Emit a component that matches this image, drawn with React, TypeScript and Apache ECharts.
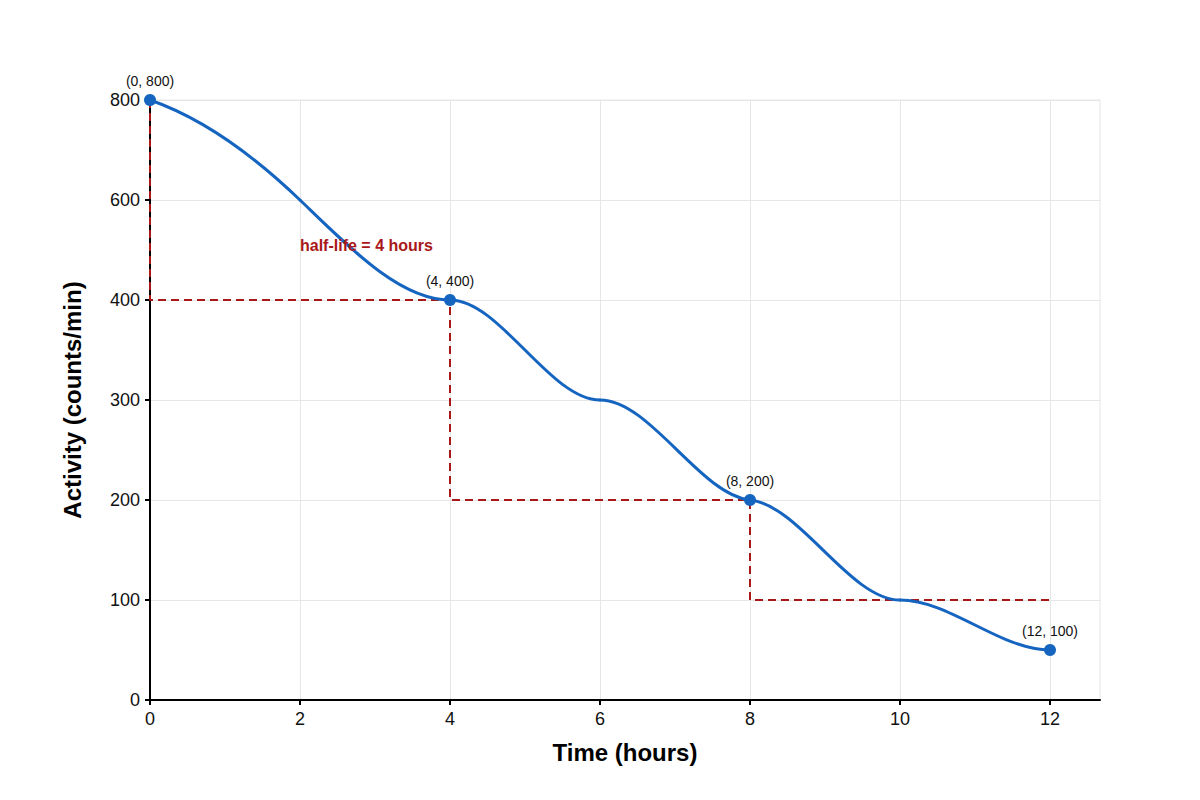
import { useEffect, useRef } from 'react'
import * as echarts from 'echarts'

// y axis: ticks are evenly spaced on screen, values are not
const yTickValues = [0, 100, 200, 300, 400, 600, 800]
const xTickValues = [0, 2, 4, 6, 8, 10, 12]

// decay curve: points, plus the slope of the curve at each
// point (in y-axis steps per hour, read off the picture too)
const curveHours = [0, 2, 4, 6, 8, 10, 12]
const curveActivity = [800, 600, 400, 300, 200, 100, 50]
const curveSlope = [-0.26, -0.72, 0, 0, -0.08, 0, 0]

// marked points
const markHours = [0, 4, 8, 12]
const markActivity = [800, 400, 200, 50]
const markLabels = ['(0, 800)', '(4, 400)', '(8, 200)', '(12, 100)']

// half-life steps
const stepHours = [0, 0, 4, 4, 8, 8, 12]
const stepActivity = [800, 400, 400, 200, 200, 100, 100]

const noteText = 'half-life = 4 hours'
const noteAt = [2, 510]

const colors = {
  curve: '#1565c0',
  marker: '#1565c0',
  step: '#a81818',
  grid: '#e6e6e6',
  text: '#111',
}

const font = '"Liberation Sans", Arial, Helvetica, sans-serif'

// activity -> position on the evenly spaced y axis
const toAxis = (v: number) => {
  for (let i = 0; i < yTickValues.length - 1; i++) {
    if (v <= yTickValues[i + 1]) {
      return i + (v - yTickValues[i]) / (yTickValues[i + 1] - yTickValues[i])
    }
  }
  return yTickValues.length - 1
}

export default function App() {
  const chartRef = useRef<HTMLDivElement>(null)

  useEffect(() => {
    document.body.style.margin = '0'
    if (!chartRef.current) return
    const chart = echarts.init(chartRef.current, null, { renderer: 'svg' })

    const option: echarts.EChartsOption = {
      animation: false,
      backgroundColor: '#fff',
      textStyle: { fontFamily: font },
      grid: {
        left: 150, right: 100, top: 100, bottom: 100,
        show: true, borderColor: colors.grid, borderWidth: 1,
      },
      xAxis: {
        type: 'value',
        min: 0,
        max: 38 / 3,
        interval: 2,
        name: 'Time (hours)',
        nameLocation: 'middle',
        nameGap: 40,
        nameTextStyle: { fontSize: 24, fontWeight: 'bold', color: '#000', fontFamily: font },
        axisLine: { lineStyle: { color: '#000', width: 2 } },
        axisTick: { show: true, length: 5, lineStyle: { color: '#000', width: 2 }, customValues: xTickValues },
        axisLabel: { fontSize: 18, color: colors.text, margin: 10, fontFamily: font, customValues: xTickValues },
        splitLine: { show: true, lineStyle: { color: colors.grid, width: 1 } },
      },
      yAxis: {
        type: 'value',
        min: 0,
        max: yTickValues.length - 1,
        interval: 1,
        name: 'Activity (counts/min)',
        nameLocation: 'middle',
        nameGap: 66,
        nameTextStyle: { fontSize: 24, fontWeight: 'bold', color: '#000', fontFamily: font },
        axisLine: { show: true, lineStyle: { color: '#000', width: 2 } },
        axisTick: { show: true, length: 5, lineStyle: { color: '#000', width: 2 } },
        axisLabel: {
          fontSize: 18, color: colors.text, margin: 10, fontFamily: font,
          formatter: (v: number) => String(yTickValues[Math.round(v)] ?? ''),
        },
        splitLine: { show: true, lineStyle: { color: colors.grid, width: 1 } },
      },
      series: [
        // half-life steps
        {
          type: 'line',
          data: stepHours.map((t, i) => [t, toAxis(stepActivity[i])]),
          symbol: 'none',
          clip: false,
          lineStyle: { color: colors.step, width: 2, type: [8, 5] },
          z: 3,
        },
        // decay curve, one cubic piece between neighbouring points
        {
          type: 'custom',
          data: curveHours.map((t, i) => [t, toAxis(curveActivity[i])]),
          encode: { x: 0, y: 1 },
          clip: false,
          silent: true,
          z: 4,
          renderItem: (params: any, api: any) => {
            const i = params.dataIndex
            if (i >= curveHours.length - 1) return { type: 'group', children: [] }
            const t0 = curveHours[i]
            const t1 = curveHours[i + 1]
            const y0 = toAxis(curveActivity[i])
            const y1 = toAxis(curveActivity[i + 1])
            const d = (t1 - t0) / 3
            const p0 = api.coord([t0, y0])
            const p1 = api.coord([t1, y1])
            const c0 = api.coord([t0 + d, y0 + curveSlope[i] * d])
            const c1 = api.coord([t1 - d, y1 - curveSlope[i + 1] * d])
            return {
              type: 'bezierCurve',
              shape: {
                x1: p0[0], y1: p0[1], x2: p1[0], y2: p1[1],
                cpx1: c0[0], cpy1: c0[1], cpx2: c1[0], cpy2: c1[1],
              },
              style: { stroke: colors.curve, lineWidth: 3, fill: 'none', lineCap: 'round' },
            }
          },
        },
        // marked points
        {
          type: 'scatter',
          data: markHours.map((t, i) => ({
            value: [t, toAxis(markActivity[i])],
            label: { formatter: markLabels[i] },
          })),
          symbolSize: 12,
          clip: false,
          itemStyle: { color: colors.marker, opacity: 1 },
          label: { show: true, position: 'top', distance: 6, fontSize: 14, color: colors.text, fontFamily: font },
          z: 5,
        },
        // note
        {
          type: 'scatter',
          data: [[noteAt[0], toAxis(noteAt[1])]],
          symbolSize: 0,
          silent: true,
          itemStyle: { opacity: 1 },
          label: {
            show: true, position: 'right', distance: 0, formatter: noteText,
            fontSize: 16, fontWeight: 'bold', color: colors.step, fontFamily: font,
          },
          z: 6,
        },
      ],
    }

    chart.setOption(option)
    return () => chart.dispose()
  }, [])

  return <div ref={chartRef} style={{ width: 1200, height: 800 }} />
}
